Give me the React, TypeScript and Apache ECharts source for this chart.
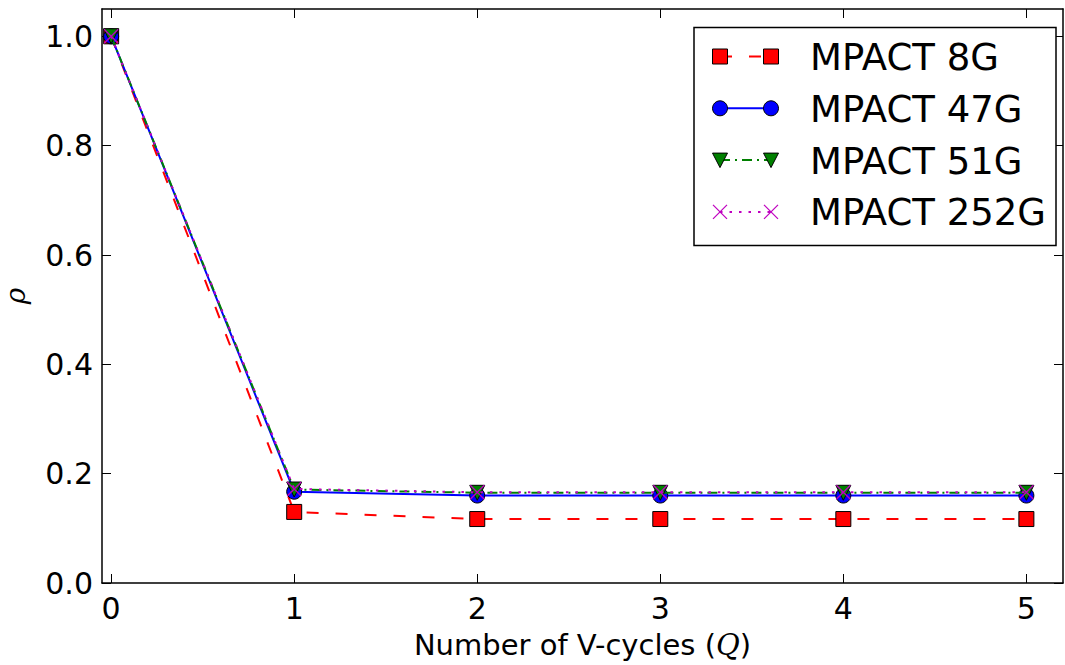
import React, { useEffect, useRef } from "react";
import * as echarts from "echarts";

const cycles = [0, 1, 2, 3, 4, 5];
const rho8G = [1.0, 0.13, 0.117, 0.117, 0.117, 0.117];
const rho47G = [1.0, 0.167, 0.16, 0.16, 0.16, 0.16];
const rho51G = [1.0, 0.171, 0.165, 0.165, 0.165, 0.165];
const rho252G = [1.0, 0.172, 0.166, 0.166, 0.166, 0.166];
const xTicks = [0, 1, 2, 3, 4, 5];
const yTicks = [0, 0.2, 0.4, 0.6, 0.8, 1.0];
const seriesNames = ["MPACT 8G", "MPACT 47G", "MPACT 51G", "MPACT 252G"];

const RED = "#ff0000";
const BLUE = "#0000ff";
const GREEN = "#008000";
const MAGENTA = "#bf00bf";

const FONT = "DejaVu Sans";

function markerGraphic(kind: string, cx: number, cy: number): any[] {
  if (kind === "rect") {
    return [{ type: "rect", shape: { x: cx - 7.5, y: cy - 7.5, width: 15, height: 15 }, style: { fill: RED, stroke: "#000", lineWidth: 1 }, z: 102 }];
  }
  if (kind === "circle") {
    return [{ type: "circle", shape: { cx, cy, r: 7.5 }, style: { fill: BLUE, stroke: "#000", lineWidth: 1 }, z: 102 }];
  }
  if (kind === "tri") {
    return [{ type: "polygon", shape: { points: [[cx - 7.5, cy - 7], [cx + 7.5, cy - 7], [cx, cy + 7.5]] }, style: { fill: GREEN, stroke: "#000", lineWidth: 1 }, z: 102 }];
  }
  return [
    { type: "line", shape: { x1: cx - 7, y1: cy - 7, x2: cx + 7, y2: cy + 7 }, style: { stroke: MAGENTA, lineWidth: 1.3 }, z: 102 },
    { type: "line", shape: { x1: cx + 7, y1: cy - 7, x2: cx - 7, y2: cy + 7 }, style: { stroke: MAGENTA, lineWidth: 1.3 }, z: 102 },
  ];
}

export default function App() {
  const ref = useRef<HTMLDivElement>(null);
  useEffect(() => {
    if (!ref.current) return;
    const chart = echarts.init(ref.current, undefined, { renderer: "svg" });

    const axisCommon = {
      axisLine: { show: true, onZero: false, lineStyle: { color: "#000", width: 1.5 } },
      splitLine: { show: false },
    };

    const styles = [
      { color: RED, dash: [12, 17] as any, symbol: "rect", marker: "rect", size: 15, rotate: 0 },
      { color: BLUE, dash: "solid" as any, symbol: "circle", marker: "circle", size: 15, rotate: 0 },
      { color: GREEN, dash: [10, 5, 2, 5] as any, symbol: "triangle", marker: "tri", size: 15, rotate: 180 },
      { color: MAGENTA, dash: [2.5, 7] as any, symbol: "path://M0,0L10,10M10,0L0,10", marker: "x", size: 14, rotate: 0 },
    ];
    const dataSets = [rho8G, rho47G, rho51G, rho252G];

    const series = dataSets.map((vals, k) => {
      const s = styles[k];
      const isX = s.marker === "x";
      return {
        name: seriesNames[k],
        type: "line",
        data: cycles.map((c, i) => [c, vals[i]]),
        symbol: s.symbol,
        symbolSize: s.size,
        symbolRotate: s.rotate,
        showAllSymbol: true,
        lineStyle: { color: s.color, width: 2, type: s.dash },
        itemStyle: isX
          ? { color: "none", borderColor: MAGENTA, borderWidth: 1.3 }
          : { color: s.color, borderColor: "#000", borderWidth: 1 },
        emphasis: { disabled: true },
        z: 2 + k,
      };
    });

    const legendRows = seriesNames.map((name, i) => {
      const s = styles[i];
      const cy = 56.5 + i * 51.8;
      return [
        {
          type: "line",
          shape: { x1: 720, y1: cy, x2: 771, y2: cy },
          style: { stroke: s.color, lineWidth: 2, lineDash: s.dash === "solid" ? null : s.dash },
          z: 101,
        },
        ...markerGraphic(s.marker, 720, cy),
        ...markerGraphic(s.marker, 771, cy),
        {
          type: "text",
          x: 810,
          y: cy + 1,
          style: { text: name, fontSize: 37, fontFamily: FONT, fill: "#000", verticalAlign: "middle", align: "left" },
          z: 102,
        },
      ];
    }).flat();

    chart.setOption({
      animation: false,
      backgroundColor: "#fff",
      grid: { left: 102, right: 2, top: 9, bottom: 82, containLabel: false, outerBoundsMode: "none" },
      xAxis: [
        {
          type: "value",
          min: -0.05,
          max: 5.2,
          position: "bottom",
          ...axisCommon,
          axisTick: { show: true, inside: true, length: 9, customValues: xTicks, lineStyle: { color: "#000", width: 1 } },
          axisLabel: { show: true, customValues: xTicks, color: "#000", fontSize: 30, fontFamily: FONT, margin: 10 },
          name: "Number of V-cycles ({q|Q})",
          nameLocation: "middle",
          nameGap: 47,
          nameTextStyle: {
            color: "#000",
            fontSize: 29,
            fontFamily: FONT,
            rich: { q: { fontStyle: "italic", fontFamily: "DejaVu Serif", fontSize: 29, color: "#000" } },
          },
        },
        {
          type: "value",
          min: -0.05,
          max: 5.2,
          position: "top",
          ...axisCommon,
          axisTick: { show: true, inside: true, length: 9, customValues: xTicks, lineStyle: { color: "#000", width: 1 } },
          axisLabel: { show: false },
        },
      ],
      yAxis: [
        {
          type: "value",
          min: 0,
          max: 1.05,
          position: "left",
          ...axisCommon,
          axisTick: { show: true, inside: true, length: 9, customValues: yTicks, lineStyle: { color: "#000", width: 1 } },
          axisLabel: {
            show: true,
            customValues: yTicks,
            color: "#000",
            fontSize: 30,
            fontFamily: FONT,
            margin: 9,
            formatter: (v: number) => v.toFixed(1),
          },
          name: "ρ",
          nameLocation: "middle",
          nameRotate: 90,
          nameGap: 76,
          nameTextStyle: { color: "#000", fontSize: 28, lineHeight: 22, fontStyle: "italic", fontFamily: "DejaVu Serif" },
        },
        {
          type: "value",
          min: 0,
          max: 1.05,
          position: "right",
          ...axisCommon,
          axisTick: { show: true, inside: true, length: 9, customValues: yTicks, lineStyle: { color: "#000", width: 1 } },
          axisLabel: { show: false },
        },
      ],
      series,
      graphic: [
        {
          type: "rect",
          shape: { x: 694, y: 27.5, width: 362, height: 218 },
          style: { fill: "#fff", stroke: "#000", lineWidth: 1.5 },
          z: 100,
        },
        ...legendRows,
      ],
    });

    return () => chart.dispose();
  }, []);

  return <div ref={ref} style={{ position: "absolute", left: 0, top: 0, width: 1065, height: 665 }} />;
}
